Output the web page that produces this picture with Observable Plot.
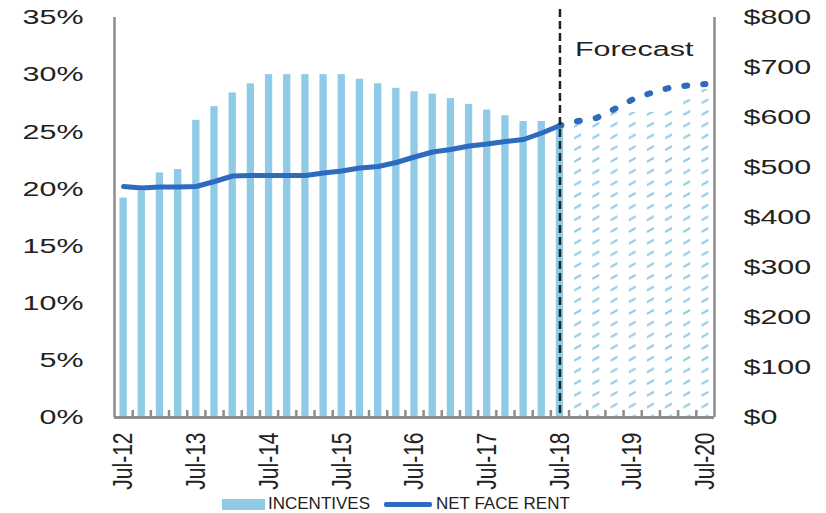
<!DOCTYPE html>
<html>
<head>
<meta charset="utf-8">
<script src="https://cdn.jsdelivr.net/npm/d3@7"></script>
<script src="https://cdn.jsdelivr.net/npm/@observablehq/plot@0.6"></script>
<style>
  body { margin: 0; background: #fff; }
  #legend { position: relative; height: 18px; font: 17px "Liberation Sans", Arial, sans-serif; color: #222; }
  #legend span { position: absolute; }
</style>
</head>
<body>
<div id="chart"></div>
<div id="legend">
  <span style="left:222px;top:4px;width:43px;height:11px;background:#8fcae7"></span>
  <span style="left:268px;top:0;line-height:18px">INCENTIVES</span>
  <span style="left:384px;top:7px;width:48px;height:5px;background:#2e6bbf;border-radius:2px"></span>
  <span style="left:436px;top:0;line-height:18px">NET FACE RENT</span>
</div>
<script>
// Quarterly periods, Jul-12 through Jul-20
const quarters = [
  "Jul-12", "Oct-12", "Jan-13", "Apr-13",
  "Jul-13", "Oct-13", "Jan-14", "Apr-14",
  "Jul-14", "Oct-14", "Jan-15", "Apr-15",
  "Jul-15", "Oct-15", "Jan-16", "Apr-16",
  "Jul-16", "Oct-16", "Jan-17", "Apr-17",
  "Jul-17", "Oct-17", "Jan-18", "Apr-18",
  "Jul-18", "Oct-18", "Jan-19", "Apr-19",
  "Jul-19", "Oct-19", "Jan-20", "Apr-20",
  "Jul-20"
];

// Incentives (% of rent), actuals Jul-12 to Jul-18
const incentivesActual = [
  19.2, 19.8, 21.4, 21.7, 26.0, 27.2, 28.4, 29.2, 30.0, 30.0, 30.0, 30.0, 30.0,
  29.6, 29.2, 28.8, 28.5, 28.3, 27.9, 27.4, 26.9, 26.4, 25.9, 25.9, 25.6
];
// Incentives forecast, Oct-18 to Jul-20
const incentivesForecast = [25.7, 25.8, 26.7, 26.7, 26.7, 26.8, 27.8, 28.7];

// Net face rent ($), actuals Jul-12 to Jul-18
const rentActual = [
  462, 459, 461, 461, 462, 472, 483, 484, 484, 484, 484, 489, 493,
  499, 502, 510, 521, 531, 536, 543, 547, 552, 556, 569, 584
];
// Net face rent forecast, Jul-18 to Jul-20
const rentForecast = [584, 593, 599, 617, 636, 649, 659, 664, 667];

const pctTicks = [0, 5, 10, 15, 20, 25, 30, 35];
const rentTicks = [0, 100, 200, 300, 400, 500, 600, 700, 800];

const pctMax = 35, rentMax = 800;
const k = pctMax / rentMax; // rent dollars -> left-axis units
const lastActual = incentivesActual.length - 1;

const bars = quarters.map((q, i) => ({
  i, q,
  value: i <= lastActual ? incentivesActual[i] : incentivesForecast[i - lastActual - 1],
  forecast: i > lastActual
}));
const rentLine = rentActual.map((v, i) => ({i, v: v * k}));
const rentDotted = rentForecast.map((v, j) => ({i: lastActual + j, v: v * k}));

const julIdx = quarters.map((q, i) => i).filter(i => quarters[i].startsWith("Jul"));
const boundaries = quarters.slice(1).map((q, i) => i + 0.5);
const edges = [-0.5, quarters.length - 0.5];

const W = 826, H = 495, mL = 114, mR = 112, mT = 17, mB = 78;
const barColor = "#8fcae7";
const lineColor = "#2e6bbf";
const frameColor = "#8c8c8c";
const half = 0.2;
const tickLen = 7 * pctMax / (H - mT - mB); // 7px in left-axis units

const chart = Plot.plot({
  width: W,
  height: H,
  marginLeft: mL,
  marginRight: mR,
  marginTop: mT,
  marginBottom: mB,
  style: {fontFamily: "'Liberation Sans', Arial, sans-serif", fontSize: "21px", color: "#222", background: "#fff"},
  x: {type: "linear", domain: edges},
  y: {domain: [0, pctMax]},
  marks: [
    Plot.rectY(bars.filter(d => !d.forecast), {x1: d => d.i - half, x2: d => d.i + half, y: "value", fill: barColor}),
    Plot.rectY(bars.filter(d => d.forecast), {x1: d => d.i - half, x2: d => d.i + half, y: "value", fill: "url(#hatch)"}),
    // short inward ticks between quarters along the bottom
    Plot.ruleX(boundaries, {x: d => d, y1: 0, y2: tickLen, stroke: frameColor, strokeWidth: 2.5}),
    Plot.ruleY([0], {stroke: frameColor, strokeWidth: 3}),
    Plot.ruleX(edges, {stroke: frameColor, strokeWidth: 2.5}),
    Plot.axisX(julIdx, {tickSize: 0, tickPadding: 15, tickRotate: -90, tickFormat: i => quarters[i], label: null}),
    Plot.axisY(pctTicks, {anchor: "left", tickSize: 0, tickPadding: 31, tickFormat: d => d + "%", label: null}),
    Plot.axisY(rentTicks.map(r => r * k), {anchor: "right", tickSize: 0, tickPadding: 29, tickFormat: d => "$" + Math.round(d / k), label: null}),
    Plot.line(rentLine, {x: "i", y: "v", stroke: lineColor, strokeWidth: 5, strokeLinejoin: "round", strokeLinecap: "round"}),
    Plot.line(rentDotted, {x: "i", y: "v", stroke: lineColor, strokeWidth: 6, strokeLinecap: "round", strokeDasharray: "3,16", strokeDashoffset: 1.5}),
    Plot.ruleX([lastActual], {stroke: "#222", strokeWidth: 2.5, strokeDasharray: "8,4", insetTop: -8}),
    Plot.text(["Forecast"], {x: () => lastActual, frameAnchor: "top", lineAnchor: "middle", dy: 32, dx: 15, textAnchor: "start", fontSize: 21, fill: "#222"})
  ]
});

// Diagonal-dash pattern for forecast bars
const ns = "http://www.w3.org/2000/svg";
const defs = document.createElementNS(ns, "defs");
const step = (W - mL - mR) / quarters.length;
defs.innerHTML = `<pattern id="hatch" patternUnits="userSpaceOnUse" width="${step}" height="11.7" x="0" y="0">
  <path d="M11,9.4 L17,6" stroke="${barColor}" stroke-width="2.2" stroke-linecap="round"/>
</pattern>`;
chart.insertBefore(defs, chart.firstChild);

// Wide lettering for the chart's labels
chart.querySelectorAll("text").forEach(t => {
  const tr = t.getAttribute("transform") || "";
  t.setAttribute("transform", tr + (/rotate/.test(tr) ? " scale(1,1.3)" : " scale(1.45,1)"));
});

document.getElementById("chart").appendChild(chart);
</script>
</body>
</html>
